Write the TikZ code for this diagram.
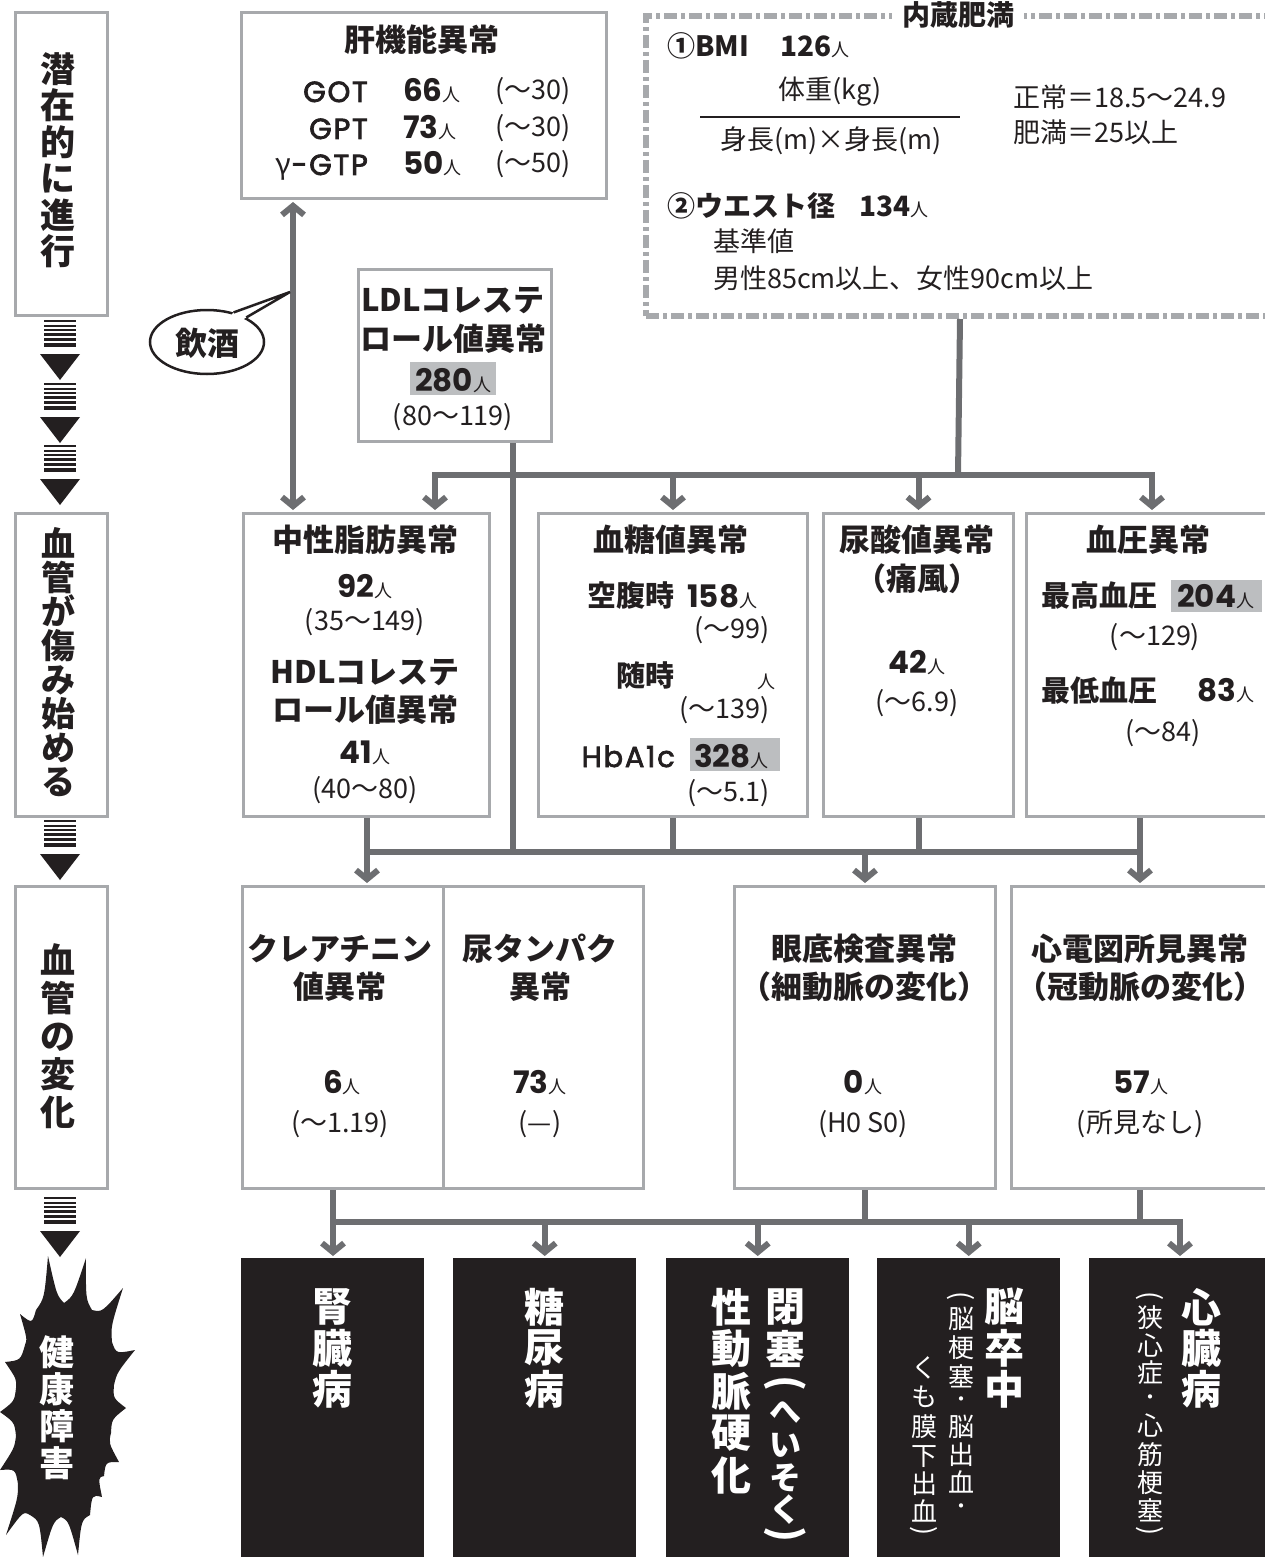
\documentclass[tikz,border=0pt]{standalone}
\usepackage{fontspec}
\setmainfont{Noto Sans CJK JP}
\newfontfamily\numf{Poppins}
\newfontfamily\labf[LetterSpace=6,FakeBold=2.5]{Poppins}
\usetikzlibrary{arrows.meta,shapes.geometric,calc}
\definecolor{boxgray}{HTML}{A7A9AC}
\definecolor{linegray}{HTML}{6D6E71}
\definecolor{hlgray}{HTML}{BCBEC0}
\definecolor{ink}{HTML}{231F20}
\newcommand\fsz[2]{\fontsize{#1}{#2}\selectfont}
\newcommand\nin{{\normalfont\fsz{18}{18}人}}
\newcommand\vcol[4]{\foreach \ch/\yy [count=\i] in {#4} \node[#3] (#1\i) at (#2,\yy) {\ch};}
\begin{document}
\begin{tikzpicture}[x=1pt,y=-1pt,
  box/.style={draw=boxgray, line width=3pt, inner sep=0pt, anchor=north west},
  blk/.style={fill=ink, inner sep=0pt, anchor=north west, minimum width=183pt, minimum height=310pt},
  conn/.style={draw=linegray, line width=6pt},
  arr/.style={conn, -{Straight Barb[length=9pt,width=22pt]}, shorten >=2pt},
  dblarr/.style={conn, {Straight Barb[length=9pt,width=22pt]}-{Straight Barb[length=9pt,width=22pt]}, shorten >=2pt, shorten <=2pt},
  ttl/.style={font=\fsz{31}{36}\bfseries, inner sep=0pt, anchor=base, text=ink},
  numb/.style={font=\fsz{31}{34}\numf\bfseries, inner sep=0pt, text=ink},
  lab/.style={font=\fsz{29}{34}\labf, inner sep=0pt, anchor=base east, text=ink},
  rng/.style={font=\fsz{27}{28}, inner sep=0pt, text=ink},
  jlab/.style={font=\fsz{29}{34}\bfseries, inner sep=0pt, text=ink},
  txt/.style={font=\fsz{27}{30}, inner sep=0pt, text=ink},
  vt/.style={align=center, inner sep=0pt, anchor=north, text=ink},
  side/.style={box, minimum width=92pt, minimum height=303pt},
  wbig/.style={font=\fsz{40}{41}\bfseries, text=white, inner sep=0pt},
  wkana/.style={font=\fsz{32}{33}\bfseries, text=white, inner sep=0pt},
  wsmall/.style={font=\fsz{26}{28}, text=white, inner sep=0pt},
  wdot/.style={font=\fsz{20}{20}, text=white, inner sep=0pt},
  wparb/.style={font=\fsz{40}{40}\bfseries, text=white, inner sep=0pt, rotate=-90},
  wpars/.style={font=\fsz{27}{27}, text=white, inner sep=0pt, rotate=-90},
  stripe arrow/.pic={
    \foreach \yy/\ww in {1/1.6,5.5/2,10/2.4,14.8/2.8,19.8/3.2,25.2/3.6}
      \fill[ink] (-16,\yy-\ww/2) rectangle (16,\yy+\ww/2);
    \fill[ink] (-20,34) -- (20,34) -- (0,60) -- cycle;
  }
]
\useasboundingbox (0,0) rectangle (1265,1557);

% ---------- left column ----------
\node[side] (side1) at (14,11) {};
\node[side] (side2) at (14,512) {};
\node[side, minimum height=302pt] (side3) at (14,885) {};
\node[vt, font=\fsz{35}{36.5}\bfseries] (side1T) at (58,52) {潜\\在\\的\\に\\進\\行};
\node[vt, font=\fsz{34}{34}\bfseries] (side2T) at (58,527) {血\\管\\が\\傷\\み\\始\\め\\る};
\node[vt, font=\fsz{35}{38}\bfseries] (side3T) at (58,943) {血\\管\\の\\変\\化};
\pic at (60,320) {stripe arrow};
\pic at (60,383) {stripe arrow};
\pic at (60,445) {stripe arrow};
\pic at (60,820) {stripe arrow};
\pic at (60,1197) {stripe arrow};

% burst
\coordinate (bc) at (62,1410);
\foreach \n/\p in {bv1/{36,1310},bt1/{48,1256},bv2/{64,1303},bt2/{86,1258},bv3/{92,1310},
  bt3/{123,1288},bv4/{112,1342},bt4/{135,1350},bv5/{114,1385},bt5/{126,1408},
  bv6/{111,1433},bt6/{119,1462},bv7/{104,1476},bt7/{102,1497},bv8/{90,1515},
  bt8/{78,1555},bv9/{61,1517},bt9/{43,1557},bv10/{30,1515},bt10/{6,1535},
  bv11/{18,1484},bt11/{0,1470},bv12/{16,1436},bt12/{0,1412},bv13/{16,1388},
  bt13/{5,1362},bv14/{25,1345},bt14/{20,1314}}
  \coordinate (\n) at (\p);
\fill[ink] (bv1) \foreach \i [evaluate=\i as \j using {int(mod(\i,14)+1)}] in {1,...,14} {
   .. controls ($(bv\i)!0.5!(bt\i)!0.12!(bc)$) .. (bt\i)
   .. controls ($(bt\i)!0.5!(bv\j)!0.12!(bc)$) .. (bv\j) } -- cycle;
\node[vt, font=\fsz{35}{37}\bfseries, text=white] (burstT) at (57,1335) {健\\康\\障\\害};

% ---------- boxes ----------
\node[box, minimum width=365pt, minimum height=186pt] (liver) at (240,11) {};
\node[box, minimum width=193pt, minimum height=172pt] (ldl) at (357,268) {};
\node[box, line width=6pt, dash pattern=on 13pt off 4pt on 4pt off 4pt,
      minimum width=628pt, minimum height=300pt] (naizo) at (643,13) {};
\node[box, minimum width=246pt, minimum height=303pt] (chusei) at (242,512) {};
\node[box, minimum width=269pt, minimum height=303pt] (kettou) at (537,512) {};
\node[box, minimum width=190pt, minimum height=303pt] (nyosan) at (822,512) {};
\node[box, minimum width=254pt, minimum height=303pt] (ketsuatsu) at (1025,512) {};
\node[box, minimum width=201pt, minimum height=302pt] (kurea) at (241,885) {};
\node[box, minimum width=200pt, minimum height=302pt] (nyotan) at (442,885) {};
\node[box, minimum width=261pt, minimum height=302pt] (gantei) at (733,885) {};
\node[box, minimum width=264pt, minimum height=302pt] (shinden) at (1010,885) {};
\node[blk] (blk1) at (241,1258) {};
\node[blk] (blk2) at (453,1258) {};
\node[blk] (blk3) at (666,1258) {};
\node[blk] (blk4) at (877,1258) {};
\node[blk] (blk5) at (1089,1258) {};

% ---------- connectors ----------
\coordinate (dax) at (293,0);
\draw[dblarr] (liver.south -| dax) -- (chusei.north -| dax);
\node[ellipse, draw=ink, line width=2.5pt, fill=white, minimum width=114pt, minimum height=64pt, inner sep=0pt] (bubble) at (207,342) {};
\coordinate (tailtip) at (290,292);
\fill[white] (bubble.48) -- (tailtip) -- (bubble.32) -- (bubble.center) -- cycle;
\draw[ink, line width=2.5pt, line join=miter] (bubble.48) -- (tailtip) -- (bubble.32);
\node[font=\fsz{32}{32}\bfseries, text=ink, inner sep=0pt] (bubbleT) at (207,343) {飲酒};

\coordinate (b1a) at (435,475);
\coordinate (b1d) at (1152,475);
\coordinate (b1n) at (958,475);
\draw[conn, line cap=rect] (b1a) -- (b1d);
\draw[conn] (naizo.south) -- (b1n);
\draw[arr] (b1a) -- (b1a |- chusei.north);
\draw[arr] (kettou.north |- b1a) -- (kettou.north);
\draw[arr] (nyosan.north |- b1a) -- (nyosan.north);
\draw[arr] (b1d) -- (b1d |- ketsuatsu.north);

\coordinate (b2a) at (367,852);
\coordinate (b2l) at (513,852);
\coordinate (b2d) at (1140,852);
\draw[conn, line cap=rect] (b2a) -- (b2d);
\draw[conn] (ldl.south -| b2l) -- (b2l);
\draw[conn] (chusei.south -| b2a) -- (b2a);
\draw[conn] (kettou.south) -- (kettou.south |- b2a);
\draw[conn] (nyosan.south) -- (nyosan.south |- b2a);
\draw[conn] (ketsuatsu.south -| b2d) -- (b2d);
\draw[arr] (b2a) -- (b2a |- kurea.north);
\draw[arr] (gantei.north |- b2a) -- (gantei.north);
\draw[arr] (b2d) -- (b2d |- shinden.north);

\coordinate (b3a) at (333,1222);
\coordinate (b3s) at (1140,1222);
\coordinate (b3e) at (1180,1222);
\draw[conn, line cap=rect] (b3a) -- (b3e);
\draw[conn] (kurea.south -| b3a) -- (b3a);
\draw[conn] (gantei.south) -- (gantei.south |- b3a);
\draw[conn] (shinden.south -| b3s) -- (b3s);
\draw[arr] (b3a) -- (blk1.north -| b3a);
\draw[arr] (blk2.north |- b3a) -- (blk2.north);
\draw[arr] (blk3.north |- b3a) -- (blk3.north);
\draw[arr] (blk4.north |- b3a) -- (blk4.north);
\draw[arr] (b3e) -- (blk5.north -| b3e);

% ---------- liver ----------
\node[ttl] (livT) at (422,52) {肝機能異常};
\node[lab] (gotL) at (368,102) {GOT};
\node[numb, anchor=base west] (gotN) at (403,102) {66\nin};
\node[rng, anchor=base west] (gotR) at (495,100) {(〜30)};
\node[lab] (gptL) at (368,139) {GPT};
\node[numb, anchor=base west] (gptN) at (403,139) {73\nin};
\node[rng, anchor=base west] (gptR) at (495,137) {(〜30)};
\node[lab] (gtpL) at (368,175) {{\normalfont γ}-GTP};
\node[numb, anchor=base west] (gtpN) at (403,175) {50\nin};
\node[rng, anchor=base west] (gtpR) at (495,173) {(〜50)};

% ---------- LDL ----------
\node[ttl] (ldlT1) at (453,311) {LDLコレステ};
\node[ttl] (ldlT2) at (453,350) {ロール値異常};
\fill[hlgray] (410,362) rectangle (496,395);
\node[numb, anchor=base] (ldlN) at (453,391) {280\nin};
\node[rng, anchor=base] (ldlR) at (453,425) {(80〜119)};

% ---------- naizo ----------
\node[font=\fsz{28}{28}\bfseries, text=ink, fill=white, inner xsep=10pt, inner ysep=2pt, anchor=base] (naizoT) at (958,26) {内蔵肥満};
\node[font=\fsz{28}{30}\bfseries, text=ink, inner sep=0pt, anchor=base west] (bmi) at (667,57) {①BMI};
\node[font=\fsz{28}{30}\bfseries, text=ink, inner sep=0pt, anchor=base west] (bmiN) at (780,57) {126\nin};
\node[txt, anchor=base] (bmiA) at (830,100) {体重(kg)};
\draw[ink, line width=1.5pt] (700,117) -- (960,117);
\node[txt, anchor=base] (bmiB) at (831,150) {身長(m)×身長(m)};
\node[txt, anchor=base west] (bmiC) at (1013,108) {正常＝18.5〜24.9};
\node[txt, anchor=base west] (bmiD) at (1013,143) {肥満＝25以上};
\node[font=\fsz{28}{30}\bfseries, text=ink, inner sep=0pt, anchor=base west] (waist) at (667,216) {②ウエスト径};
\node[font=\fsz{28}{30}\bfseries, text=ink, inner sep=0pt, anchor=base west] (waistN) at (859,216) {134\nin};
\node[txt, anchor=base west] (waistA) at (713,251) {基準値};
\node[txt, anchor=base west] (waistB) at (713,288) {男性85cm以上、女性90cm以上};

% ---------- chusei ----------
\node[ttl] (chT1) at (365,551) {中性脂肪異常};
\node[numb, anchor=base] (chN1) at (365,597) {92\nin};
\node[rng, anchor=base] (chR1) at (365,630) {(35〜149)};
\node[ttl] (chT2) at (365,683) {HDLコレステ};
\node[ttl] (chT3) at (365,721) {ロール値異常};
\node[numb, anchor=base] (chN2) at (365,763) {41\nin};
\node[rng, anchor=base] (chR2) at (365,798) {(40〜80)};

% ---------- kettou ----------
\node[ttl] (ktT) at (671,551) {血糖値異常};
\node[jlab, anchor=base east] (ktL1) at (675,606) {空腹時};
\node[numb, anchor=base west] (ktN1) at (687,607) {158\nin};
\node[rng, anchor=base east] (ktR1) at (770,638) {(〜99)};
\node[jlab, anchor=base east] (ktL2) at (675,686) {随時};
\node[font=\fsz{18}{18}, text=ink, inner sep=0pt, anchor=base west] (ktN2) at (757,688) {人};
\node[rng, anchor=base east] (ktR2) at (770,718) {(〜139)};
\node[lab] (ktL3) at (675,767) {HbA1c};
\fill[hlgray] (690,738) rectangle (780,771);
\node[numb, anchor=base west] (ktN3) at (694,767) {328\nin};
\node[rng, anchor=base east] (ktR3) at (770,801) {(〜5.1)};

% ---------- nyosan ----------
\node[ttl] (nsT1) at (917,551) {尿酸値異常};
\node[ttl] (nsT2) at (917,590) {（痛風）};
\node[numb, anchor=base] (nsN) at (917,673) {42\nin};
\node[rng, anchor=base] (nsR) at (917,711) {(〜6.9)};

% ---------- ketsuatsu ----------
\node[ttl] (kaT) at (1148,551) {血圧異常};
\node[jlab, anchor=base west] (kaL1) at (1041,606) {最高血圧};
\fill[hlgray] (1171,580) rectangle (1262,612);
\node[numb, anchor=base west] (kaN1) at (1177,607) {204\nin};
\node[rng, anchor=base] (kaR1) at (1155,645) {(〜129)};
\node[jlab, anchor=base west] (kaL2) at (1041,701) {最低血圧};
\node[numb, anchor=base west] (kaN2) at (1197,701) {83\nin};
\node[rng, anchor=base] (kaR2) at (1163,741) {(〜84)};

% ---------- third row ----------
\node[ttl] (kuT1) at (340,960) {クレアチニン};
\node[ttl] (kuT2) at (340,998) {値異常};
\node[numb, anchor=base] (kuN) at (342,1093) {6\nin};
\node[rng, anchor=base] (kuR) at (340,1132) {(〜1.19)};
\node[ttl] (ntT1) at (540,960) {尿タンパク};
\node[ttl] (ntT2) at (540,998) {異常};
\node[numb, anchor=base] (ntN) at (540,1093) {73\nin};
\node[rng, anchor=base] (ntR) at (540,1132) {(—)};
\node[ttl] (gtT1) at (864,960) {眼底検査異常};
\node[ttl] (gtT2) at (864,998) {（細動脈の変化）};
\node[numb, anchor=base] (gtN) at (863,1093) {0\nin};
\node[rng, anchor=base] (gtR) at (863,1132) {(H0 S0)};
\node[ttl] (sdT1) at (1140,960) {心電図所見異常};
\node[ttl] (sdT2) at (1140,998) {（冠動脈の変化）};
\node[numb, anchor=base] (sdN) at (1141,1093) {57\nin};
\node[rng, anchor=base] (sdR) at (1140,1132) {(所見なし)};

% ---------- black boxes ----------
\vcol{bxa}{332}{wbig}{腎/1307,臓/1348,病/1389}
\vcol{bxb}{544}{wbig}{糖/1307,尿/1348,病/1389}
\vcol{bxc}{785}{wbig}{閉/1307,塞/1349}
\node[wparb] (bxcp1) at (785,1383) {(};
\vcol{bxk}{785}{wkana}{へ/1412,い/1445,そ/1478,く/1510}
\node[wparb] (bxcp2) at (785,1534) {)};
\vcol{bxd}{731}{wbig}{性/1307,動/1349,脈/1391,硬/1433,化/1475}
\vcol{bxe}{1004}{wbig}{脳/1307,卒/1348,中/1389}
\node[wpars] (bxfp) at (961,1296) {(};
\vcol{bxf}{961}{wsmall}{脳/1319,梗/1348,塞/1376}
\node[wdot] (bxfd1) at (961,1402) {・};
\vcol{bxm}{961}{wsmall}{脳/1427,出/1455,血/1482}
\node[wdot] (bxfd2) at (961,1509) {・};
\vcol{bxg}{924}{wsmall}{く/1368,も/1397,膜/1427,下/1457,出/1484,血/1511}
\node[wpars] (bxgp) at (924,1531) {)};
\vcol{bxh}{1201}{wbig}{心/1307,臓/1348,病/1389}
\node[wpars] (bxip1) at (1150,1296) {(};
\vcol{bxi}{1150}{wsmall}{狭/1318,心/1345,症/1373}
\node[wdot] (bxid) at (1150,1400) {・};
\vcol{bxj}{1150}{wsmall}{心/1425,筋/1455,梗/1483,塞/1510}
\node[wpars] (bxip2) at (1150,1531) {)};
\end{tikzpicture}
\end{document}
